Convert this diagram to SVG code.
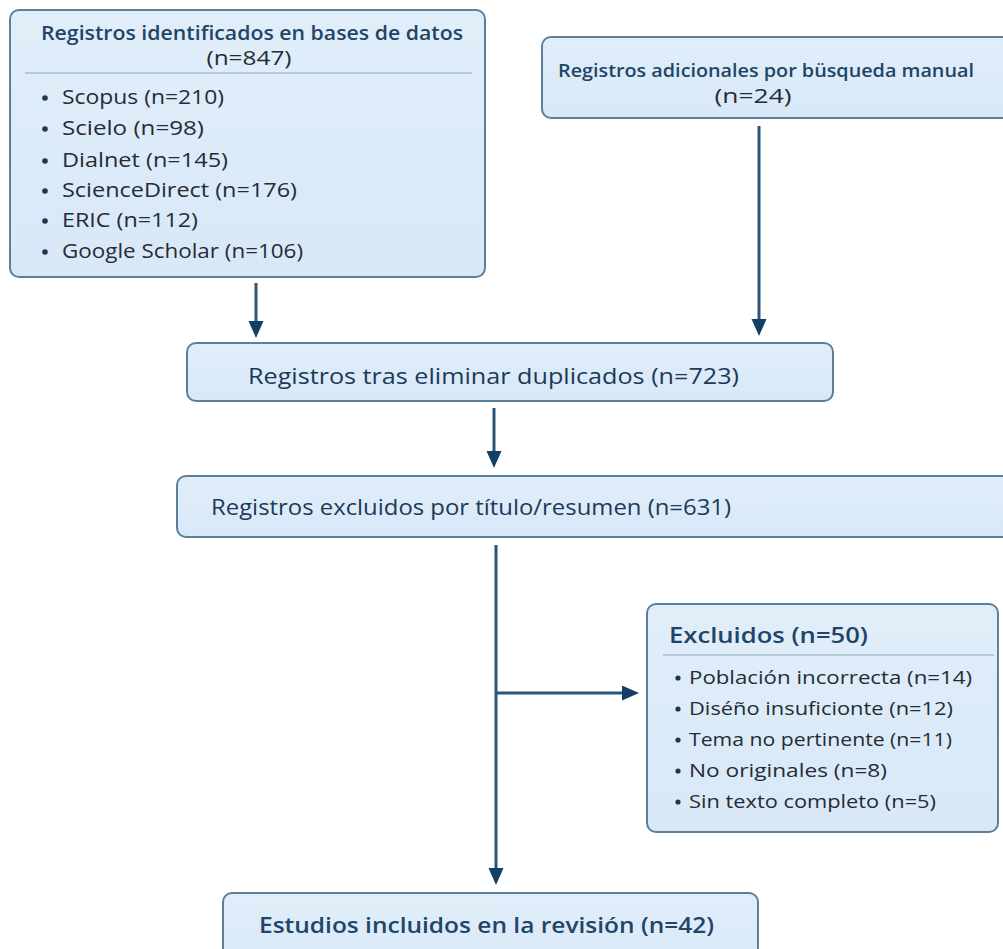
<svg xmlns="http://www.w3.org/2000/svg" width="1003" height="949" viewBox="0 0 1003 949">
<defs>
<marker id="ah" markerUnits="userSpaceOnUse" markerWidth="18" markerHeight="16" refX="8" refY="7.5" orient="auto">
<path d="M0,0 L17,7.5 L0,15 z" fill="#133f66"/>
</marker>
<linearGradient id="bg" x1="0" y1="0" x2="0" y2="1">
<stop offset="0" stop-color="#e1eefa"/>
<stop offset="1" stop-color="#d8e8f7"/>
</linearGradient>
</defs>
<style>
.box{fill:url(#bg);stroke:#5e7f99;stroke-width:2}
.sep{stroke:#a9bccb;stroke-width:1.5}
.t{font-family:"Open Sans","Noto Sans","Liberation Sans",sans-serif;fill:#1f4568;font-weight:600}
.h{font-family:"Open Sans","Noto Sans","Liberation Sans",sans-serif;fill:#1b3a58;font-weight:500}
.l{font-family:"Open Sans","Noto Sans","Liberation Sans",sans-serif;fill:#262b33;font-weight:500}
.dot{fill:#1f3550}
.c{fill:none;stroke:#2b5478;stroke-width:3}
</style>
<rect width="1003" height="949" fill="#ffffff"/>

<g id="n1">
<rect class="box" x="10" y="10" width="475" height="267" rx="9"/>
<text class="t" x="252" y="40" font-size="19" text-anchor="middle" textLength="422" lengthAdjust="spacingAndGlyphs">Registros identificados en bases de datos</text>
<text class="l" x="249" y="65" font-size="20" text-anchor="middle" textLength="85" lengthAdjust="spacingAndGlyphs">(n=847)</text>
<line class="sep" x1="25" y1="73" x2="472" y2="73"/>
<circle class="dot" cx="45" cy="98" r="2.8"/>
<text class="l" x="62" y="104" font-size="20" textLength="162" lengthAdjust="spacingAndGlyphs">Scopus (n=210)</text>
<circle class="dot" cx="45" cy="129" r="2.8"/>
<text class="l" x="62" y="135" font-size="20" textLength="142" lengthAdjust="spacingAndGlyphs">Scielo (n=98)</text>
<circle class="dot" cx="45" cy="161" r="2.8"/>
<text class="l" x="62" y="167" font-size="20" textLength="166" lengthAdjust="spacingAndGlyphs">Dialnet (n=145)</text>
<circle class="dot" cx="45" cy="191" r="2.8"/>
<text class="l" x="62" y="197" font-size="20" textLength="235" lengthAdjust="spacingAndGlyphs">ScienceDirect (n=176)</text>
<circle class="dot" cx="45" cy="221" r="2.8"/>
<text class="l" x="62" y="227" font-size="20" textLength="136" lengthAdjust="spacingAndGlyphs">ERIC (n=112)</text>
<circle class="dot" cx="45" cy="252" r="2.8"/>
<text class="l" x="62" y="258" font-size="20" textLength="241" lengthAdjust="spacingAndGlyphs">Google Scholar (n=106)</text>
</g>

<g id="n2">
<rect class="box" x="542" y="37" width="475" height="81" rx="9"/>
<text class="t" x="766" y="77" font-size="18" text-anchor="middle" textLength="416" lengthAdjust="spacingAndGlyphs">Registros adicionales por büsqueda manual</text>
<text class="l" x="753" y="103" font-size="20" text-anchor="middle" textLength="77" lengthAdjust="spacingAndGlyphs">(n=24)</text>
</g>

<g id="n3">
<rect class="box" x="187" y="343" width="646" height="58" rx="9"/>
<text class="h" x="248" y="384" font-size="22.5" textLength="491" lengthAdjust="spacingAndGlyphs">Registros tras eliminar duplicados (n=723)</text>
</g>

<g id="n4">
<rect class="box" x="177" y="476" width="840" height="61" rx="9"/>
<text class="h" x="211" y="515" font-size="22" textLength="520" lengthAdjust="spacingAndGlyphs">Registros excluidos por título/resumen (n=631)</text>
</g>

<g id="n5">
<rect class="box" x="647" y="604" width="351" height="228" rx="9"/>
<text class="t" x="669" y="643" font-size="22" textLength="199" lengthAdjust="spacingAndGlyphs">Excluidos (n=50)</text>
<line class="sep" x1="663" y1="655" x2="994" y2="655"/>
<circle class="dot" cx="678" cy="678" r="2.6"/>
<text class="l" x="689" y="684" font-size="19" textLength="283" lengthAdjust="spacingAndGlyphs">Población incorrecta (n=14)</text>
<circle class="dot" cx="678" cy="709" r="2.6"/>
<text class="l" x="689" y="715" font-size="19" textLength="264" lengthAdjust="spacingAndGlyphs">Diséño insuficionte (n=12)</text>
<circle class="dot" cx="678" cy="740" r="2.6"/>
<text class="l" x="689" y="746" font-size="19" textLength="263" lengthAdjust="spacingAndGlyphs">Tema no pertinente (n=11)</text>
<circle class="dot" cx="678" cy="771" r="2.6"/>
<text class="l" x="689" y="777" font-size="19" textLength="198" lengthAdjust="spacingAndGlyphs">No originales (n=8)</text>
<circle class="dot" cx="678" cy="802" r="2.6"/>
<text class="l" x="689" y="808" font-size="19" textLength="247" lengthAdjust="spacingAndGlyphs">Sin texto completo (n=5)</text>
</g>

<g id="n6">
<rect class="box" x="223" y="893" width="535" height="80" rx="9"/>
<text class="t" x="259" y="933" font-size="22" textLength="455" lengthAdjust="spacingAndGlyphs">Estudios incluidos en la revisión (n=42)</text>
</g>

<g id="connectors">
<path class="c" d="M256 283 V329" marker-end="url(#ah)"/>
<path class="c" d="M759 126 V327" marker-end="url(#ah)"/>
<path class="c" d="M494 408 V459" marker-end="url(#ah)"/>
<path class="c" d="M496 545 V876" marker-end="url(#ah)"/>
<path class="c" d="M496 693 H630" marker-end="url(#ah)"/>
</g>
</svg>
